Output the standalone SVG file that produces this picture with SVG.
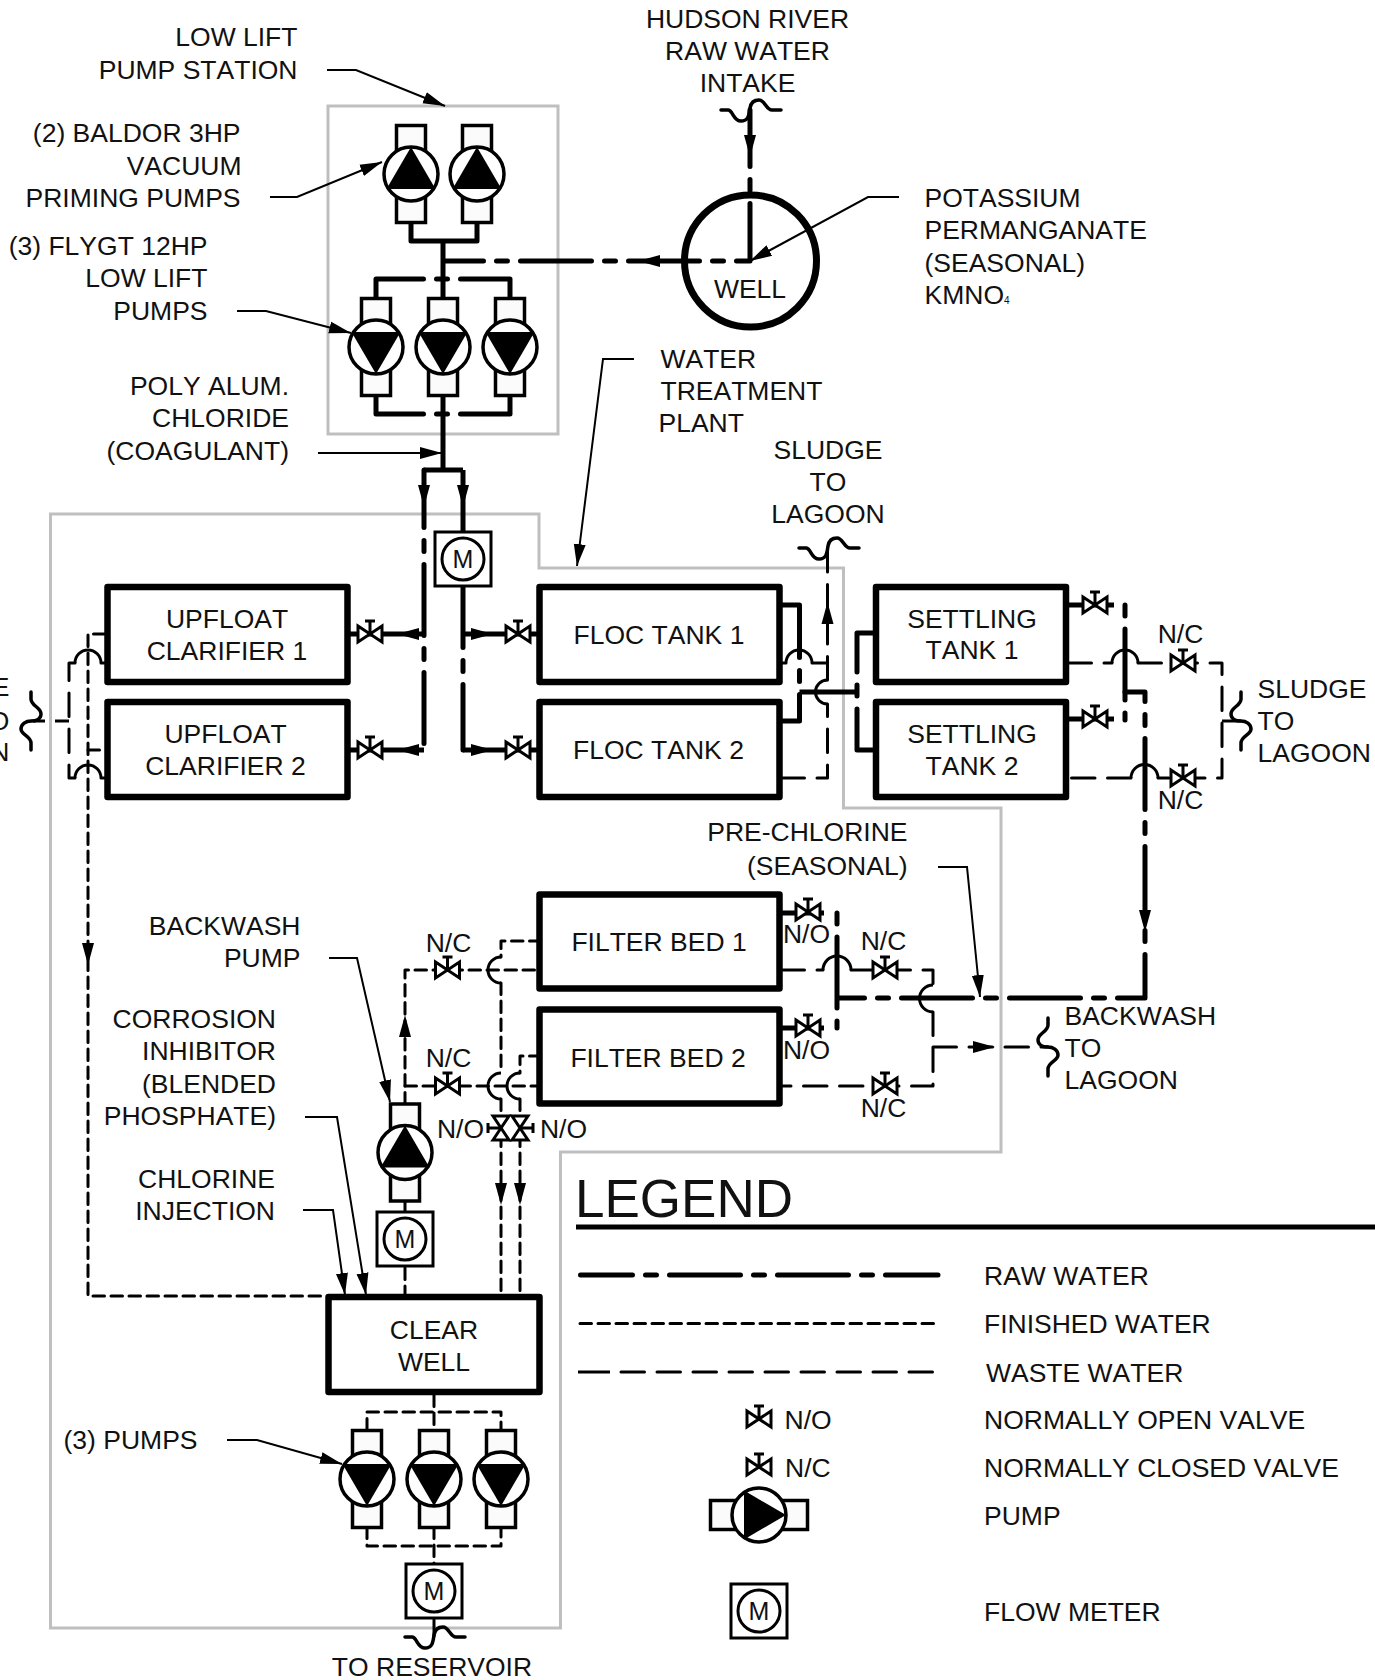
<svg xmlns="http://www.w3.org/2000/svg" xmlns:xlink="http://www.w3.org/1999/xlink" width="1375" height="1680" viewBox="0 0 1375 1680">
<style>
text{font-family:"Liberation Sans",Arial,sans-serif;font-size:26.5px;fill:#111;font-kerning:none}
.e{text-anchor:end}.m{text-anchor:middle}
.grey{fill:none;stroke:#bfbfbf;stroke-width:3}
.r,.rs,.f,.w,.br,.sq{fill:none;stroke:#000;stroke-linejoin:round}
.r{stroke-width:5;stroke-linecap:round;stroke-dasharray:71 13 11 13}
.rs{stroke-width:5}
.f{stroke-width:3;stroke-linecap:round;stroke-dasharray:11.5 6.5}
.w{stroke-width:3;stroke-linecap:round;stroke-dasharray:23.5 12.5}
.br{stroke-width:3}
.sq{stroke-width:3.5;stroke-linecap:round}
.lead{fill:none;stroke:#000;stroke-width:2}
.tip{fill:none;stroke:none;marker-end:url(#ah)}
.tank{fill:#fff;stroke:#000;stroke-width:6.5;stroke-linejoin:round}
.v *{stroke:#000;stroke-width:3}
.p rect{fill:#fbfbfb;stroke:#000;stroke-width:3.5}
.p circle{fill:#fff;stroke:#000;stroke-width:3.5}
.box{fill:#fff;stroke:#000;stroke-width:3}
.mt{font-size:25px}
</style>
<defs>
<marker id="ah" markerUnits="userSpaceOnUse" markerWidth="24" markerHeight="14" viewBox="0 -7 24 14" refX="22" refY="0" orient="auto"><path d="M0 -6L22 0L0 6Z" fill="#000"/></marker>
<g id="sqH"><path class="sq" d="M-29 0H-22C-17 0 -17 11 -9 11C-2 11 -1 6 0 -2C1 -8 5 -10 9 -10C15 -10 16 0 22 0H31"/></g>
<g id="sqV"><path class="sq" d="M0 -29V-22C0 -15 -10 -14 -10 -7C-10 -2 -5 0 0 0C5 0 10 3 10 8C10 14 0 15 0 22V29"/></g>
<g id="val" class="v"><path d="M-12 -8L12 8V-8L-12 8Z" fill="#fff"/><path d="M0 0V-13M-5 -13H5" fill="none"/></g>
<g id="pu" class="p"><rect x="-14.5" y="-48.5" width="29" height="97"/><circle r="27"/><path d="M0 -27L24.5 15H-24.5Z" fill="#000"/></g>
<g id="pd" class="p"><rect x="-14.5" y="-48.5" width="29" height="97"/><circle r="27"/><path d="M0 27L24.5 -15H-24.5Z" fill="#000"/></g>
<g id="mb"><rect class="box" x="-28" y="-27" width="56" height="54"/><circle class="box" r="21"/></g>
</defs>

<g id="outlines">
<rect class="grey" x="328" y="106" width="230" height="328"/>
<path class="grey" d="M50.500 514H539V568H843.500V808H1001V1152H560.500V1628H50.500Z"/>
</g>

<g id="connectors">
<!-- raw water -->
<path class="r" style="stroke-dashoffset:14.500" d="M750 110V261H445"/>
<path class="rs" d="M411 222V241H477V222M443 241V298M443 395V470M424 470H463M463 470V532"/>
<path class="r" style="stroke-dashoffset:4.500" d="M376 298V279H510V298"/>
<path class="r" style="stroke-dashoffset:4.500" d="M376 395V414H510V395"/>
<path class="r" style="stroke-dashoffset:13.500" d="M424 470V750"/>
<path class="r" style="stroke-dashoffset:9.500" d="M463 586V750"/>
<path class="rs" d="M424 634H350M424 750H350M463 634H538M463 750H538"/>
<path class="r" d="M781 605H799.500V721H781"/>
<path class="rs" d="M799.500 692H857"/>
<path class="r" style="stroke-dashoffset:12" d="M877 633H857V750H877"/>
<path class="rs" d="M1068 605H1114M1068 719H1114M781 913H824M781 1028H824"/>
<path class="r" style="stroke-dashoffset:84" d="M1125 605V720"/>
<path class="r" style="stroke-dashoffset:84" d="M837 913V1028"/>
<path class="r" style="stroke-dashoffset:41.500" d="M1125 692H1145V998H838"/>
<!-- finished water -->
<path class="f" d="M405 1104V970H541"/>
<path class="f" d="M405 1086H541"/>
<path class="f" d="M541 941H501V957"/><path class="br" d="M501 957a13 13 0 0 0 0 26"/>
<path class="f" d="M501 983V1073"/><path class="br" d="M501 1073a13 13 0 0 0 0 26"/>
<path class="f" d="M501 1099V1294"/>
<path class="f" d="M541 1056H520V1073"/><path class="br" d="M520 1073a13 13 0 0 0 0 26"/>
<path class="f" d="M520 1099V1294"/>
<path class="f" d="M105 634H88V1296H327"/>
<path class="f" d="M88 750H105"/>
<path class="f" d="M405 1200V1213M405 1268V1294"/>
<path class="f" d="M434 1395V1430"/>
<path class="f" d="M367 1430V1412H501V1430"/>
<path class="f" d="M367 1527V1546H501V1527"/>
<path class="f" d="M434 1527V1565"/>
<path class="rs" style="stroke-width:3" d="M434 1619V1637"/>
<!-- waste water -->
<path class="w" d="M781 778H827.500V704"/><path class="br" d="M827.500 704a12 12 0 0 1 0 -24"/>
<path class="w" d="M827.500 680V552"/>
<path class="br" d="M781 663H786a13 13 0 0 1 26 0H827.500"/>
<path class="w" d="M1068 663H1112"/><path class="br" d="M1112 663a13 13 0 0 1 26 0"/>
<path class="w" d="M1138 663H1222V778H1158"/><path class="br" d="M1131 778a13.500 13.500 0 0 1 27 0"/>
<path class="w" d="M1131 778H1068"/>
<path class="br" d="M1222 721H1241"/>
<path class="br" d="M75 663a13 13 0 0 1 26 0H105M75 778a13 13 0 0 1 26 0H105"/>
<path class="w" d="M75 663H69V778H75"/>
<path class="br" d="M69 721H55M45 721H33"/>
<path class="w" d="M781 970H823"/><path class="br" d="M823 970a14 14 0 0 1 28 0"/>
<path class="w" d="M851 970H933V985"/><path class="br" d="M933 985a13.500 13.500 0 0 0 0 27"/>
<path class="w" d="M933 1012V1086H781"/>
<path class="w" d="M933 1047H1048"/>
<!-- pipe arrowheads -->
<path class="tip" d="M750 135V157"/>
<path class="tip" d="M660 261H638"/>
<path class="tip" d="M424 485V507"/>
<path class="tip" d="M463 485V507"/>
<path class="tip" d="M417 634H397"/>
<path class="tip" d="M417 750H397"/>
<path class="tip" d="M472 634H493"/>
<path class="tip" d="M472 750H493"/>
<path class="tip" d="M827.500 622V602"/>
<path class="tip" d="M1145 910V932"/>
<path class="tip" d="M88 941V965"/>
<path class="tip" d="M405 1037V1015"/>
<path class="tip" d="M501 1182V1205"/>
<path class="tip" d="M520 1182V1205"/>
<path class="tip" d="M973 1047H995"/>
<!-- label leaders -->
<path class="lead" style="marker-end:url(#ah)" d="M327 70H356L445 106"/>
<path class="lead" style="marker-end:url(#ah)" d="M270 197H297L382 162"/>
<path class="lead" style="marker-end:url(#ah)" d="M237 311H266L351 333"/>
<path class="lead" style="marker-end:url(#ah)" d="M318 453H442"/>
<path class="lead" style="marker-end:url(#ah)" d="M899 197H868L750 261"/>
<path class="lead" style="marker-end:url(#ah)" d="M634 359H603L577 566"/>
<path class="lead" style="marker-end:url(#ah)" d="M938 867H967L980 997"/>
<path class="lead" style="marker-end:url(#ah)" d="M329 958H357L390 1102"/>
<path class="lead" style="marker-end:url(#ah)" d="M305 1117H337L366 1295"/>
<path class="lead" style="marker-end:url(#ah)" d="M303 1210H333L345 1295"/>
<path class="lead" style="marker-end:url(#ah)" d="M227 1440H257L342 1464"/>
</g>

<g id="line-breaks">
<use href="#sqH" x="750" y="110"/>
<use href="#sqH" x="828" y="548"/>
<use href="#sqH" x="434" y="1637"/>
<use href="#sqV" x="1241" y="721"/>
<use href="#sqV" x="1048" y="1047"/>
<use href="#sqV" transform="translate(31 721) scale(-1 1)"/>
</g>

<g id="low-lift-station">
<g id="vacuum-pump-1"><use href="#pu" x="411" y="174"/></g>
<g id="vacuum-pump-2"><use href="#pu" x="477" y="174"/></g>
<g id="low-lift-pump-1"><use href="#pd" x="376" y="347"/></g>
<g id="low-lift-pump-2"><use href="#pd" x="443" y="347"/></g>
<g id="low-lift-pump-3"><use href="#pd" x="510" y="347"/></g>
</g>

<g id="well"><circle cx="750.500" cy="261" r="66" fill="none" stroke="#000" stroke-width="7"/><text class="m" x="750" y="298">WELL</text></g>

<g id="meter-raw"><use href="#mb" x="463" y="559"/><text class="m mt" x="463" y="568">M</text></g>

<g id="upfloat-clarifier-1"><rect class="tank" x="107.500" y="587" width="240" height="95"/><text class="m" x="227" y="628">UPFLOAT</text><text class="m" x="227" y="660">CLARIFIER 1</text></g>
<g id="upfloat-clarifier-2"><rect class="tank" x="107.500" y="702" width="240" height="95"/><text class="m" x="225.500" y="743">UPFLOAT</text><text class="m" x="225.500" y="775">CLARIFIER 2</text></g>
<g id="floc-tank-1"><rect class="tank" x="539.500" y="587" width="240" height="95"/><text class="m" x="659" y="644">FLOC TANK 1</text></g>
<g id="floc-tank-2"><rect class="tank" x="539.500" y="702" width="240" height="95"/><text class="m" x="658.500" y="758.500">FLOC TANK 2</text></g>
<g id="settling-tank-1"><rect class="tank" x="876" y="587" width="190" height="95"/><text class="m" x="972" y="628">SETTLING</text><text class="m" x="972" y="659">TANK 1</text></g>
<g id="settling-tank-2"><rect class="tank" x="876" y="702" width="190" height="95"/><text class="m" x="972" y="743">SETTLING</text><text class="m" x="972" y="775">TANK 2</text></g>
<g id="filter-bed-1"><rect class="tank" x="539.500" y="894.500" width="240" height="94"/><text class="m" x="659" y="951">FILTER BED 1</text></g>
<g id="filter-bed-2"><rect class="tank" x="539.500" y="1009.500" width="240" height="94"/><text class="m" x="658" y="1066.500">FILTER BED 2</text></g>
<g id="clear-well"><rect class="tank" x="328.500" y="1297" width="211" height="95"/><text class="m" x="434" y="1338.500">CLEAR</text><text class="m" x="434" y="1370.500">WELL</text></g>

<g id="backwash-pump"><use href="#pu" x="405" y="1152.500"/></g>
<g id="meter-backwash"><use href="#mb" x="405" y="1239"/><text class="m mt" x="405" y="1248">M</text></g>
<g id="pump-1"><use href="#pd" x="367" y="1479"/></g>
<g id="pump-2"><use href="#pd" x="434" y="1479"/></g>
<g id="pump-3"><use href="#pd" x="501" y="1479"/></g>
<g id="meter-out"><use href="#mb" x="434" y="1591"/><text class="m mt" x="434" y="1600">M</text></g>

<g id="valves">
<use href="#val" x="370" y="634"/><use href="#val" x="370" y="750"/>
<use href="#val" x="518" y="634"/><use href="#val" x="518" y="750"/>
<use href="#val" x="1095" y="605"/><use href="#val" x="1095" y="719"/>
<use href="#val" x="1183" y="663"/><use href="#val" x="1183" y="778"/>
<use href="#val" x="808" y="912"/><use href="#val" x="808" y="1028"/>
<use href="#val" x="885" y="970"/><use href="#val" x="885" y="1086"/>
<use href="#val" x="447.500" y="970"/><use href="#val" x="447.500" y="1086"/>
<use href="#val" transform="translate(501 1128) rotate(-90)"/>
<use href="#val" transform="translate(520 1128) rotate(90)"/>
</g>

<g id="labels" transform="translate(-0.5 -1)">
<text class="m" x="748" y="29">HUDSON RIVER</text><text class="m" x="748" y="61">RAW WATER</text><text class="m" x="748" y="93">INTAKE</text>
<text class="e" x="298" y="47">LOW LIFT</text><text class="e" x="298" y="80">PUMP STATION</text>
<text class="e" x="241" y="142.500">(2) BALDOR 3HP</text><text class="e" x="242" y="175.500">VACUUM</text><text class="e" x="241" y="208">PRIMING PUMPS</text>
<text class="e" x="208" y="256">(3) FLYGT 12HP</text><text class="e" x="208" y="288">LOW LIFT</text><text class="e" x="208" y="320.500">PUMPS</text>
<text class="e" x="289.500" y="395.500">POLY ALUM.</text><text class="e" x="289.500" y="427.500">CHLORIDE</text><text class="e" x="289.500" y="460.500">(COAGULANT)</text>
<text x="925" y="208">POTASSIUM</text><text x="925" y="240">PERMANGANATE</text><text x="925" y="273">(SEASONAL)</text><text x="925" y="305">KMNO<tspan font-size="10">4</tspan></text>
<text x="661" y="368.500">WATER</text><text x="661" y="400.500">TREATMENT</text><text x="659" y="433">PLANT</text>
<text class="m" x="828.500" y="459.500">SLUDGE</text><text class="m" x="828.500" y="492">TO</text><text class="m" x="828.500" y="524">LAGOON</text>
<text class="e" x="10" y="697">SLUDGE</text><text class="e" x="10" y="731">TO</text><text class="e" x="10" y="762">LAGOON</text>
<text class="m" x="1181" y="644">N/C</text><text class="m" x="1181" y="810">N/C</text>
<text x="1258" y="698.500">SLUDGE</text><text x="1258" y="731">TO</text><text x="1258" y="763">LAGOON</text>
<text class="e" x="908" y="842">PRE-CHLORINE</text><text class="e" x="908" y="875.500">(SEASONAL)</text>
<text class="e" x="301" y="935.500">BACKWASH</text><text class="e" x="301" y="967.500">PUMP</text>
<text class="e" x="276.500" y="1028.500">CORROSION</text><text class="e" x="276.500" y="1061">INHIBITOR</text><text class="e" x="276.500" y="1094">(BLENDED</text><text class="e" x="276.500" y="1126">PHOSPHATE)</text>
<text class="e" x="275.500" y="1188.500">CHLORINE</text><text class="e" x="275.500" y="1220.500">INJECTION</text>
<text class="e" x="198" y="1450">(3) PUMPS</text>
<text class="m" x="449" y="952.500">N/C</text><text class="m" x="449" y="1068">N/C</text>
<text class="m" x="461" y="1139">N/O</text><text class="m" x="564" y="1139">N/O</text>
<text class="m" x="807" y="944">N/O</text><text class="m" x="807" y="1059.500">N/O</text>
<text class="m" x="884" y="950.500">N/C</text><text class="m" x="884" y="1117.500">N/C</text>
<text x="1065" y="1025.500">BACKWASH</text><text x="1065" y="1057.500">TO</text><text x="1065" y="1090">LAGOON</text>
<text class="m" x="432.500" y="1677">TO RESERVOIR</text>
</g>

<g id="legend">
<text x="575" y="1217" style="font-size:53px">LEGEND</text>
<path d="M576 1227H1375" stroke="#000" stroke-width="5" fill="none"/>
<path class="r" style="stroke-dashoffset:19" d="M580.500 1275H938"/>
<path class="f" d="M580 1323.500H940"/>
<path class="rs" style="stroke-width:3" d="M578 1372H610"/>
<path class="w" d="M621 1372H938"/>
<use href="#val" x="759" y="1419"/>
<use href="#val" x="759" y="1467"/>
<use href="#pu" transform="translate(759 1515) rotate(90)"/>
<use href="#mb" x="759" y="1611"/><text class="m mt" x="759" y="1620">M</text>
<g transform="translate(-1 -1)">
<text x="985" y="1286">RAW WATER</text>
<text x="985" y="1334">FINISHED WATER</text>
<text x="987" y="1382.500">WASTE WATER</text>
<text x="785.500" y="1429.500">N/O</text>
<text x="985" y="1429.500">NORMALLY OPEN VALVE</text>
<text x="786" y="1477.500">N/C</text>
<text x="985" y="1477.500">NORMALLY CLOSED VALVE</text>
<text x="985" y="1526">PUMP</text>
<text x="985" y="1621.500">FLOW METER</text>
</g>
</g>
</svg>
